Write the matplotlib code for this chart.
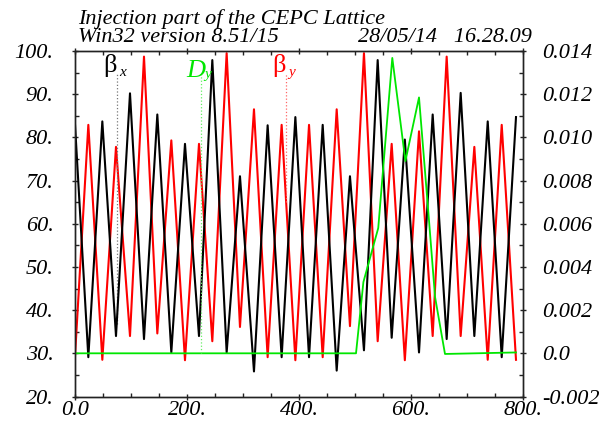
import numpy as np
import matplotlib
matplotlib.use('Agg')
import matplotlib.pyplot as plt
from matplotlib.ticker import MultipleLocator, FuncFormatter

# positions of the quads along the line (m)
s = [0, 23.8, 48.8, 73.2, 98.2, 123.2, 147, 172, 196.4, 221.4, 245.2,
     270.8, 294.6, 319.6, 344, 369, 393.5, 417.9, 442.3, 467.3, 491, 516,
     540.5, 565.5, 589, 614.3, 638.7, 663.7, 688.7, 713.1, 737, 762, 787.5]

beta_x = [83.0, 29.1, 83.7, 34.0, 90.2, 33.3, 85.3, 30.2, 78.5, 34.0, 97.9,
          30.2, 71.0, 25.8, 82.8, 29.1, 84.7, 29.1, 82.9, 26.0, 71.0, 30.7,
          97.9, 33.6, 79.5, 30.2, 85.3, 33.3, 90.3, 34.0, 83.7, 29.1, 84.7]

beta_y = [29.3, 82.9, 28.5, 77.8, 34.0, 98.7, 34.6, 79.3, 28.4, 78.5, 32.8,
          99.5, 36.1, 86.5, 29.1, 82.9, 28.4, 82.9, 29.1, 86.5, 36.3, 99.5,
          32.8, 78.5, 28.4, 81.4, 34.0, 98.7, 34.0, 77.8, 28.5, 82.9, 28.5]

# vertical dispersion (right axis)
s_dy = [0, 501.8, 515, 541.5, 566.6, 590, 614.3, 632, 643, 660.7, 787.5]
dy = [0.0, 0.0, 0.0033, 0.0058, 0.01368, 0.0089, 0.01185, 0.0062, 0.0026,
      -0.00003, 0.00004]

W, H = 616, 424
plt.rcParams['font.family'] = ['Liberation Serif', 'DejaVu Serif']
plt.rcParams['font.style'] = 'italic'
plt.rcParams['font.size'] = 16

fig = plt.figure(figsize=(W / 100, H / 100), dpi=100)
ax = fig.add_axes([75 / W, 27.5 / H, 448 / W, 345.5 / H])
ax2 = ax.twinx()

ax.plot(s, beta_x, color='black', lw=1.5, zorder=3)
ax.plot(s, beta_y, color='#ff0000', lw=1.5, zorder=2)
ax2.plot(s_dy, dy, color='#00e600', lw=1.3)

ax.set_xlim(0, 800)
ax.set_ylim(20, 100)
ax2.set_ylim(-0.002, 0.014)

ax.xaxis.set_major_locator(MultipleLocator(200))
ax.xaxis.set_minor_locator(MultipleLocator(50))
ax.yaxis.set_major_locator(MultipleLocator(10))
ax.yaxis.set_minor_locator(MultipleLocator(5))
ax2.yaxis.set_major_locator(MultipleLocator(0.002))
ax2.yaxis.set_minor_locator(MultipleLocator(0.001))

ax.xaxis.set_major_formatter(FuncFormatter(lambda v, p: '0.0' if v == 0 else f'{v:.0f}.'))
ax.yaxis.set_major_formatter(FuncFormatter(lambda v, p: f'{v:.0f}.'))
ax2.yaxis.set_major_formatter(FuncFormatter(lambda v, p: '0.0' if abs(v) < 1e-9 else f'{v:.3f}'))

ax.tick_params(which='major', direction='inout', length=5, width=1, top=True, right=False,
               color='#222222', labelsize=16)
ax.tick_params(which='minor', direction='in', length=3, width=1, top=True, right=False, color='#222222')
ax.tick_params(axis='y', which='major', pad=13)
ax.tick_params(axis='x', which='major', pad=1)
ax2.tick_params(which='major', direction='inout', length=5, width=1, pad=11, color='#222222',
                labelsize=16)
ax2.tick_params(which='minor', direction='in', length=3, width=1, color='#222222')
for a in (ax, ax2):
    for sp in a.spines.values():
        sp.set_color('#222222')
        sp.set_linewidth(1)

# header lines
fig.text(78 / W, 1 - 24 / H, 'Injection part of the CEPC Lattice', fontsize=16, va='baseline')
fig.text(78 / W, 1 - 42 / H, 'Win32 version 8.51/15', fontsize=16, va='baseline')
fig.text(358 / W, 1 - 42 / H, '28/05/14   16.28.09', fontsize=16, va='baseline')

# curve labels with dotted pointers
top = 94.9
sx, sdy, sby = 74.4, 225, 377
ax.vlines(sx, np.interp(sx, s, beta_x), top, colors='#777777', linestyles=':', lw=0.9)
ax.vlines(sby, np.interp(sby, s, beta_y), top, colors='#ff6666', linestyles=':', lw=0.9)
ax2.vlines(sdy, np.interp(sdy, s_dy, dy), (top - 30) * 0.0002, colors='#66ee66', linestyles=':', lw=0.9)

fig.text(103 / W, 1 - 72 / H, 'β', fontsize=19, style='normal', color='black', va='baseline')
fig.text(119 / W, 1 - 76 / H, 'x', fontsize=11, color='black', va='baseline')
fig.text(186 / W, 1 - 77 / H, 'D', fontsize=19, color='#00e600', va='baseline')
fig.text(204 / W, 1 - 78 / H, 'y', fontsize=11, color='#00e600', va='baseline')
fig.text(272 / W, 1 - 72 / H, 'β', fontsize=19, style='normal', color='#ff0000', va='baseline')
fig.text(288 / W, 1 - 76 / H, 'y', fontsize=11, color='#ff0000', va='baseline')

fig.savefig('out.png', dpi=100)
